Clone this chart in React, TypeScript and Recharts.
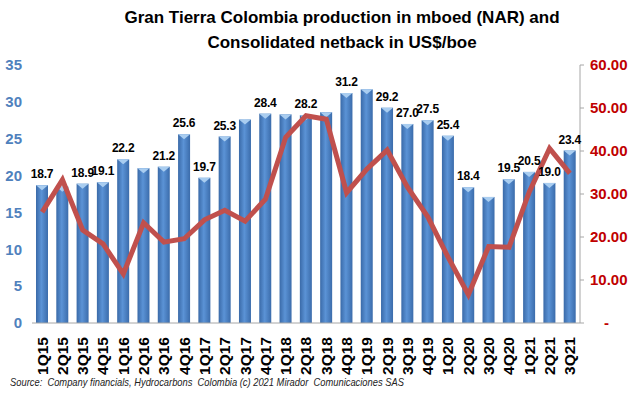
import {ComposedChart, Bar, Line, XAxis, YAxis, LabelList} from "recharts"

const quarters = ["1Q15", "2Q15", "3Q15", "4Q15", "1Q16", "2Q16", "3Q16", "4Q16", "1Q17", "2Q17", "3Q17", "4Q17", "1Q18", "2Q18", "3Q18", "4Q18", "1Q19", "2Q19", "3Q19", "4Q19", "1Q20", "2Q20", "3Q20", "4Q20", "1Q21", "2Q21", "3Q21"]
const production = [18.7, 18.5, 18.9, 19.1, 22.2, 21.0, 21.2, 25.6, 19.7, 25.3, 27.6, 28.4, 28.3, 28.2, 28.6, 31.2, 31.7, 29.2, 27.0, 27.5, 25.4, 18.4, 17.1, 19.5, 20.5, 19.0, 23.4]
const netback = [25.8, 33.3, 21.6, 18.4, 11.4, 23.3, 18.8, 19.6, 24.0, 26.2, 23.7, 28.8, 43.2, 48.2, 47.4, 30.3, 35.8, 40.2, 31.6, 24.7, 15.3, 6.6, 17.8, 17.6, 30.5, 40.6, 34.8]
const shownLabels = ["18.7", "", "18.9", "19.1", "22.2", "", "21.2", "25.6", "19.7", "25.3", "", "28.4", "", "28.2", "", "31.2", "", "29.2", "27.0", "27.5", "25.4", "18.4", "", "19.5", "20.5", "19.0", "23.4"]
const leftTicks = [0, 5, 10, 15, 20, 25, 30, 35]
const rightTicks = [0, 10, 20, 30, 40, 50, 60]

const data = quarters.map((q, i) => ({q, prod: production[i], net: netback[i], lbl: shownLabels[i]}))

const FONT = "'Liberation Sans', Arial, sans-serif"

function BarShape(props: any) {
    const {x, y, width, height} = props
    if (!height) return null
    const cap = Math.min(5, height)
    return (
        <g>
            <rect x={x} y={y} width={width} height={height} fill="url(#barGrad)" />
            <path d={`M${x},${y} L${x + width},${y} L${x + width / 2},${y + cap} Z`} fill="#a9cdf0" />
        </g>
    )
}

function XTick(props: any) {
    const {x, y, payload} = props
    return (
        <text x={x} y={y + 6} transform={`rotate(-90, ${x}, ${y + 6})`} textAnchor="end" dy="0.35em"
              fontFamily={FONT} fontSize={15.5} fontWeight="bold" fill="#000">
            {payload.value}
        </text>
    )
}

function RightTick(props: any) {
    const {x, y, payload} = props
    const zero = payload.value === 0
    return (
        <text x={zero ? x + 16 : x + 2} y={y} dy="0.35em" textAnchor="start"
              fontFamily={FONT} fontSize={15} fontWeight="bold" fill="#c00000">
            {zero ? "-" : payload.value.toFixed(2)}
        </text>
    )
}

export default function App() {
    return (
        <div style={{position: "absolute", left: 0, top: 0, width: 640, height: 396, background: "#fff", fontFamily: FONT}}>
            <div style={{position: "absolute", left: 0, top: 5, width: 640, paddingLeft: 44, boxSizing: "border-box", textAlign: "center",
                fontWeight: "bold", fontSize: 17, lineHeight: "25px", color: "#000"}}>
                Gran Tierra Colombia production in mboed (NAR) and<br/>Consolidated netback in US$/boe
            </div>
            <ComposedChart width={640} height={396} data={data} margin={{top: 65, right: 0, left: 0, bottom: 23}}>
                <defs>
                    <linearGradient id="barGrad" x1="0" y1="0" x2="1" y2="0">
                        <stop offset="0%" stopColor="#3a6aa8" />
                        <stop offset="45%" stopColor="#5b93d6" />
                        <stop offset="100%" stopColor="#3b6cab" />
                    </linearGradient>
                </defs>
                <XAxis dataKey="q" interval={0} height={50} tick={<XTick />} tickLine={false}
                       axisLine={{stroke: "#a6a6a6"}} />
                <YAxis yAxisId="l" orientation="left" width={32} domain={[0, 35]} ticks={leftTicks}
                       axisLine={false} tickLine={false} tickSize={0} tickMargin={10}
                       tick={{fill: "#4f81bd", fontSize: 15, fontWeight: "bold", fontFamily: FONT}} />
                <YAxis yAxisId="r" orientation="right" width={60} domain={[0, 60]} ticks={rightTicks}
                       axisLine={{stroke: "#a6a6a6"}} tickLine={{stroke: "#a6a6a6"}} tickSize={4} tickMargin={4}
                       tick={<RightTick />} />
                <Bar yAxisId="l" dataKey="prod" barSize={12} shape={<BarShape />} isAnimationActive={false}>
                    <LabelList dataKey="lbl" position="top" offset={7} fill="#000"
                               style={{fontFamily: FONT, fontSize: 12, fontWeight: "bold", letterSpacing: -0.2}} />
                </Bar>
                <Line yAxisId="r" dataKey="net" type="linear" stroke="#c0504d" strokeWidth={5} dot={false}
                      strokeLinejoin="miter" isAnimationActive={false} />
            </ComposedChart>
            <div style={{position: "absolute", left: 10, top: 376, fontSize: 11, fontStyle: "italic", color: "#222",
                whiteSpace: "nowrap", transform: "scaleX(0.85)", transformOrigin: "0 0"}}>
                Source:&nbsp; Company financials, Hydrocarbons&nbsp; Colombia (c) 2021 Mirador&nbsp; Comunicaciones SAS
            </div>
        </div>
    )
}
